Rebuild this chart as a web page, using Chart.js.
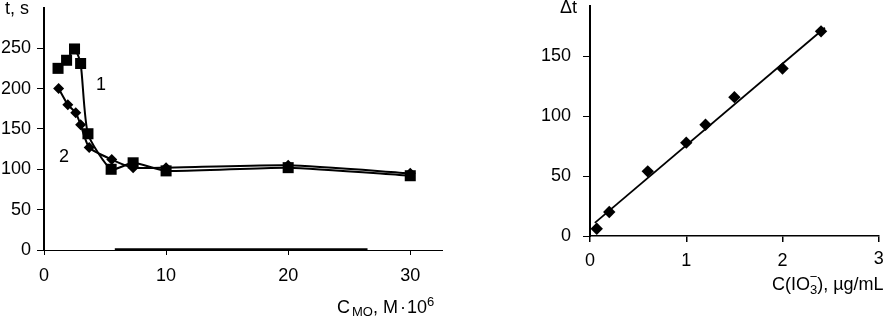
<!DOCTYPE html>
<html><head><meta charset="utf-8">
<script src="https://cdn.jsdelivr.net/npm/chart.js@4.4.0/dist/chart.umd.min.js"></script>
<style>
html,body{margin:0;padding:0;background:#fff;overflow:hidden;width:885px;height:318px;}
#c1{position:absolute;left:0;top:0;}
#c2{position:absolute;left:530px;top:0;}
</style></head><body>
<canvas id="c1" width="460" height="318"></canvas>
<canvas id="c2" width="355" height="318"></canvas>
<script>
// ---- Left chart data ----
const curve1X = [1.15, 1.85, 2.5, 3.0, 3.6, 5.5, 7.3, 10, 20, 30];
const curve1Y = [225, 235, 249, 231, 144, 100, 108, 98, 102, 92];
const curve2X = [1.2, 1.95, 2.6, 3.0, 3.7, 5.55, 7.3, 10, 20, 30];
const curve2Y = [200, 180, 170, 155, 127, 112, 102, 102, 105, 95];
const leftXTicks = [0, 10, 20, 30];
const leftYTicks = [0, 50, 100, 150, 200, 250];
const curveLabels = ['1', '2'];
const curveLabelX = [4.66, 1.64];
const curveLabelY = [204, 115];
const axisBandX = [5.8, 26.5];
// ---- Right chart data ----
const calibX = [0.07, 0.2, 0.6, 1.0, 1.2, 1.5, 2.0, 2.4];
const calibY = [6, 20, 54, 78, 93, 116, 140, 171];
const trendX = [0.05, 2.44];
const trendY = [11, 174];
const rightXTicks = [0, 1, 2, 3];
const rightYTicks = [0, 50, 100, 150];

const FONT = "'Liberation Sans', Arial, sans-serif";
const FS = 18;
function fixPad(s){ s.paddingTop=0; s.paddingBottom=0; s.paddingLeft=0; s.paddingRight=0; }
function pts(xs, ys){ return xs.map((x,i)=>({x:x, y:ys[i]})); }

const leftText = {
  id:'leftText',
  afterDraw(chart){
    const ctx = chart.ctx, xs = chart.scales.x, ys = chart.scales.y;
    ctx.save();
    ctx.strokeStyle='#000'; ctx.lineWidth=2.5;
    ctx.beginPath();
    ctx.moveTo(xs.getPixelForValue(axisBandX[0]), ys.getPixelForValue(0)-0.5);
    ctx.lineTo(xs.getPixelForValue(axisBandX[1]), ys.getPixelForValue(0)-0.5);
    ctx.stroke();
    ctx.fillStyle='#000';
    ctx.font = FS+'px '+FONT;
    ctx.textBaseline='middle'; ctx.textAlign='left';
    ctx.fillText('t, s', 5, 9);
    ctx.textAlign='center';
    curveLabels.forEach((t,i)=>{
      ctx.fillText(t, xs.getPixelForValue(curveLabelX[i]), ys.getPixelForValue(curveLabelY[i]));
    });
    ctx.textAlign='left'; ctx.textBaseline='alphabetic';
    let x = 337, y = 313;
    ctx.font = FS+'px '+FONT; ctx.fillText('C', x, y); x += ctx.measureText('C').width + 2;
    ctx.font = '13px '+FONT; ctx.fillText('MO', x, y+3); x += ctx.measureText('MO').width;
    ctx.font = FS+'px '+FONT; ctx.fillText(', M', x, y); x += ctx.measureText(', M').width + 2;
    ctx.fillText('\u00B7', x, y); x += ctx.measureText('\u00B7').width + 1;
    ctx.fillText('10', x, y); x += ctx.measureText('10').width;
    ctx.font = '13px '+FONT; ctx.fillText('6', x, y-7);
    ctx.restore();
  }
};

const rightText = {
  id:'rightText',
  afterDraw(chart){
    const ctx = chart.ctx, xs = chart.scales.x;
    ctx.save();
    ctx.fillStyle='#000';
    ctx.font = FS+'px '+FONT;
    ctx.textBaseline='middle'; ctx.textAlign='left';
    ctx.fillText('\u0394t', 30, 8);
    const last = rightXTicks[rightXTicks.length-1];
    ctx.textAlign='right'; ctx.textBaseline='top';
    ctx.fillText(String(last), Math.min(xs.getPixelForValue(last)+5, chart.width-1), xs.top + 14);
    ctx.textAlign='left'; ctx.textBaseline='alphabetic';
    let x = 242, y = 290;
    ctx.fillText('C(IO', x, y); x += ctx.measureText('C(IO').width;
    ctx.font = '13px '+FONT;
    const w3 = ctx.measureText('3').width;
    ctx.fillText('3', x, y+4);
    ctx.textAlign='center';
    ctx.fillText('\u2212', x + w3/2, y-9);
    ctx.textAlign='left';
    x += w3;
    ctx.font = FS+'px '+FONT; ctx.fillText('), \u00B5g/mL', x, y);
    ctx.restore();
  }
};

function axisCommon(){ return {color:'#000', font:{family:FONT, size:FS}, maxRotation:0, autoSkip:false}; }

new Chart(document.getElementById('c1'), {
  type:'scatter',
  data:{datasets:[
    {data:pts(curve1X, curve1Y), showLine:true, tension:0.2, borderColor:'#000', borderWidth:2,
     backgroundColor:'#000', pointBackgroundColor:'#000', pointBorderColor:'#000', pointBorderWidth:0,
     pointStyle:'rect', pointRadius:7.8, clip:false},
    {data:pts(curve2X, curve2Y), showLine:true, tension:0.2, borderColor:'#000', borderWidth:2,
     backgroundColor:'#000', pointBackgroundColor:'#000', pointBorderColor:'#000', pointBorderWidth:0,
     pointStyle:'rectRot', pointRadius:5.5, clip:false}
  ]},
  options:{
    responsive:false, animation:false, devicePixelRatio:1,
    layout:{padding:{left:0, top:0, right:18, bottom:0}},
    plugins:{legend:{display:false}, tooltip:{enabled:false}},
    scales:{
      x:{type:'linear', min:0, max:32.6,
         afterBuildTicks:s=>{ s.ticks = leftXTicks.map(v=>({value:v})); },
         grid:{display:true, drawOnChartArea:false, drawTicks:true, tickLength:5, color:'#000', lineWidth:1},
         border:{display:true, color:'#000', width:1},
         ticks:Object.assign(axisCommon(), {padding:10}),
         afterFit:s=>{ s.height = 68; fixPad(s); }},
      y:{type:'linear', min:0, max:300,
         afterBuildTicks:s=>{ s.ticks = leftYTicks.map(v=>({value:v})); },
         grid:{display:true, drawOnChartArea:false, drawTicks:true, tickLength:7, color:'#000', lineWidth:1},
         border:{display:true, color:'#000', width:2},
         ticks:Object.assign(axisCommon(), {padding:6}),
         afterFit:s=>{ s.width = 44; fixPad(s); }}
    }
  },
  plugins:[leftText]
});

new Chart(document.getElementById('c2'), {
  type:'scatter',
  data:{datasets:[
    {data:pts(trendX, trendY), showLine:true, tension:0, borderColor:'#000', borderWidth:1.8,
     pointRadius:0, clip:false},
    {data:pts(calibX, calibY), showLine:false, backgroundColor:'#000', pointBackgroundColor:'#000',
     pointBorderColor:'#000', pointBorderWidth:0, pointStyle:'rectRot', pointRadius:6.2, clip:false}
  ]},
  options:{
    responsive:false, animation:false, devicePixelRatio:1,
    layout:{padding:{left:0, top:0, right:3, bottom:0}},
    plugins:{legend:{display:false}, tooltip:{enabled:false}},
    scales:{
      x:{type:'linear', min:0, max:3,
         afterBuildTicks:s=>{ s.ticks = rightXTicks.map(v=>({value:v})); },
         grid:{display:true, drawOnChartArea:false, drawTicks:true, tickLength:6, color:'#000', lineWidth:1.5},
         border:{display:true, color:'#000', width:1.5},
         ticks:Object.assign(axisCommon(), {padding:8,
           callback:(v)=> v === rightXTicks[rightXTicks.length-1] ? '' : String(v)}),
         afterFit:s=>{ s.height = 82; fixPad(s); }},
      y:{type:'linear', min:0, max:192,
         afterBuildTicks:s=>{ s.ticks = rightYTicks.map(v=>({value:v})); },
         grid:{display:true, drawOnChartArea:false, drawTicks:true, tickLength:7, color:'#000', lineWidth:1},
         border:{display:true, color:'#000', width:2},
         ticks:Object.assign(axisCommon(), {padding:12}),
         afterFit:s=>{ s.width = 60; fixPad(s); }}
    }
  },
  plugins:[rightText]
});
</script>
</body></html>
